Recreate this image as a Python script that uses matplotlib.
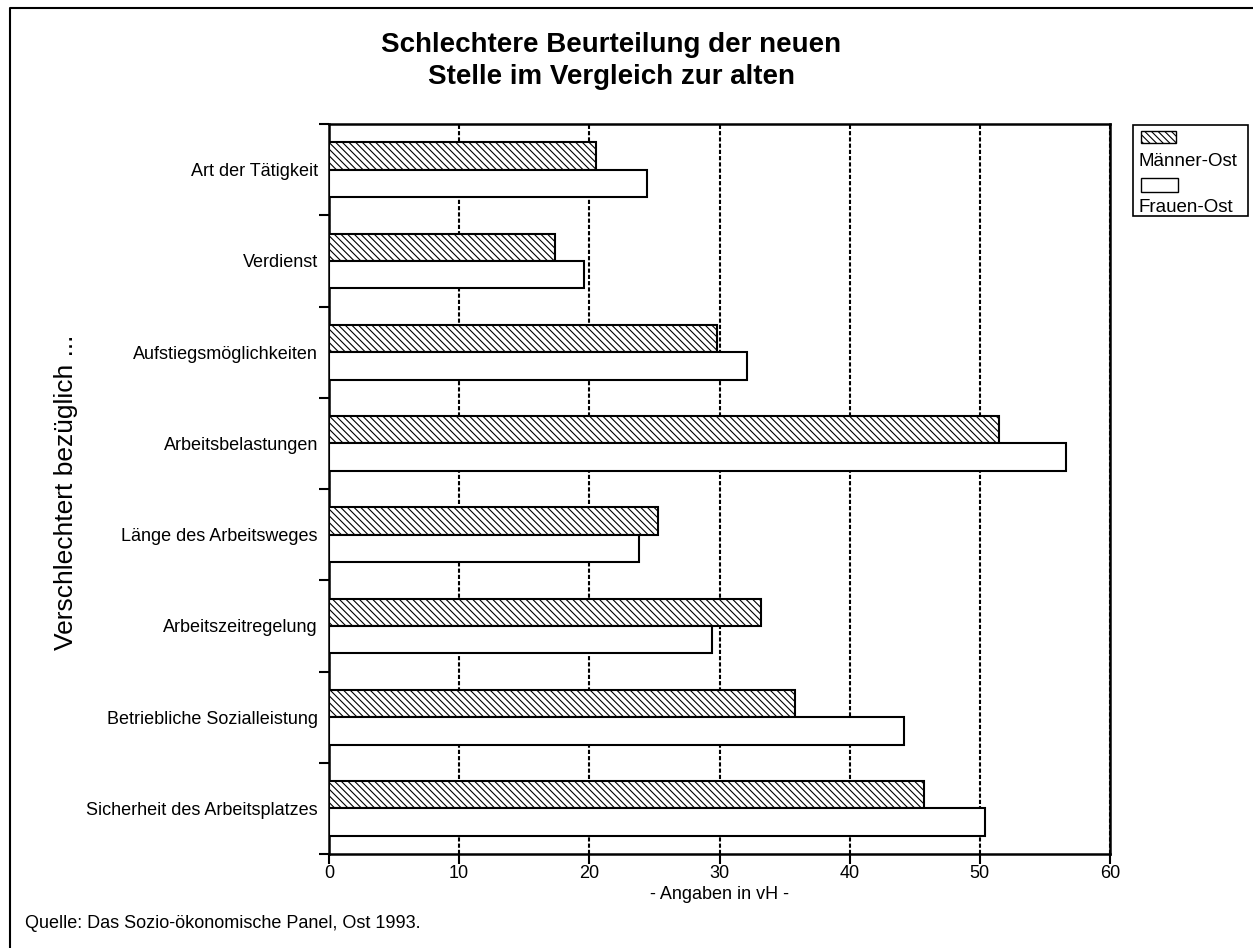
import numpy as np
import matplotlib
matplotlib.use("Agg")
import matplotlib.pyplot as plt
from matplotlib.patches import Rectangle
from matplotlib.lines import Line2D

# categories, top to bottom
categories = [
    "Art der Tätigkeit",
    "Verdienst",
    "Aufstiegsmöglichkeiten",
    "Arbeitsbelastungen",
    "Länge des Arbeitsweges",
    "Arbeitszeitregelung",
    "Betriebliche Sozialleistung",
    "Sicherheit des Arbeitsplatzes",
]
maenner_ost = [20.5, 17.4, 29.8, 51.5, 25.3, 33.2, 35.8, 45.7]
frauen_ost = [24.4, 19.6, 32.1, 56.6, 23.8, 29.4, 44.2, 50.4]
x_ticks = [0, 10, 20, 30, 40, 50, 60]
series_names = ["Männer-Ost", "Frauen-Ost"]

plt.rcParams.update({
    "font.family": ["Liberation Sans", "DejaVu Sans"],
    "hatch.linewidth": 0.8,
    "hatch.color": "black",
})

W, H = 1253, 948
fig = plt.figure(figsize=(W / 100, H / 100), dpi=100)
fig.patch.set_facecolor("white")

# axes placed in pixel coords of the reference
ax = fig.add_axes([329 / W, 1 - 854 / H, (1110 - 329) / W, (854 - 124) / H])

pos = np.arange(len(categories))
bh = 0.3
hatch = "\\" * 5
ax.barh(pos - bh / 2, maenner_ost, height=bh, color="white", edgecolor="black",
        linewidth=1.5, hatch=hatch, label=series_names[0], zorder=3)
ax.barh(pos + bh / 2, frauen_ost, height=bh, color="white", edgecolor="black",
        linewidth=1.5, label=series_names[1], zorder=3)

ax.set_xlim(0, 60)
ax.set_ylim(len(categories) - 0.5, -0.5)
ax.set_xticks(x_ticks)
ax.set_xticklabels([str(t) for t in x_ticks], fontsize=13)
ax.tick_params(axis="x", direction="out", length=7, width=1.5, pad=1)

# category labels at centres, boundary ticks as minor ticks
ax.set_yticks(pos)
ax.set_yticklabels(categories, fontsize=13)
ax.set_yticks(np.arange(len(categories) + 1) - 0.5, minor=True)
ax.tick_params(axis="y", which="major", length=0, pad=8)
ax.tick_params(axis="y", which="minor", direction="out", length=7, width=1.5)

# dashed vertical grid
ax.set_axisbelow(True)
ax.xaxis.grid(True, color="black", linestyle=(0, (2, 1)), linewidth=1.5)
ax.yaxis.grid(False)

for s in ax.spines.values():
    s.set_linewidth(1.8)

ax.set_xlabel("- Angaben in vH -", fontsize=13, labelpad=3)
fig.text(66 / W, 1 - 492 / H, "Verschlechtert bezüglich ...", rotation=90,
         ha="center", va="center", fontsize=19)

# title
fig.text(0.488, 1 - 61 / H, "Schlechtere Beurteilung der neuen\nStelle im Vergleich zur alten",
         ha="center", va="center", fontsize=20, fontweight="bold", linespacing=1.3)

# source note
fig.text(25 / W, 1 - 924 / H, "Quelle: Das Sozio-ökonomische Panel, Ost 1993.",
         ha="left", va="center", fontsize=13)

# legend drawn by hand (patch above text, as in the original)
fig.add_artist(Rectangle((1133 / W, 1 - 216 / H), 115 / W, 91 / H,
                         transform=fig.transFigure, facecolor="white",
                         edgecolor="black", linewidth=1.2))
fig.add_artist(Rectangle((1141 / W, 1 - 143 / H), 35 / W, 12 / H,
                         transform=fig.transFigure, facecolor="white",
                         edgecolor="black", linewidth=1.0, hatch=hatch))
fig.text(1139 / W, 1 - 162 / H, series_names[0], ha="left", va="center", fontsize=13.5)
fig.add_artist(Rectangle((1141 / W, 1 - 192 / H), 37 / W, 14 / H,
                         transform=fig.transFigure, facecolor="white",
                         edgecolor="black", linewidth=1.0))
fig.text(1139 / W, 1 - 207 / H, series_names[1], ha="left", va="center", fontsize=13.5)

# frame of the page
fig.add_artist(Line2D([10 / W, 10 / W, 1.0], [0.0, 1 - 8 / H, 1 - 8 / H],
                      transform=fig.transFigure, color="black", linewidth=1.5))

fig.savefig("out.png", dpi=100)
